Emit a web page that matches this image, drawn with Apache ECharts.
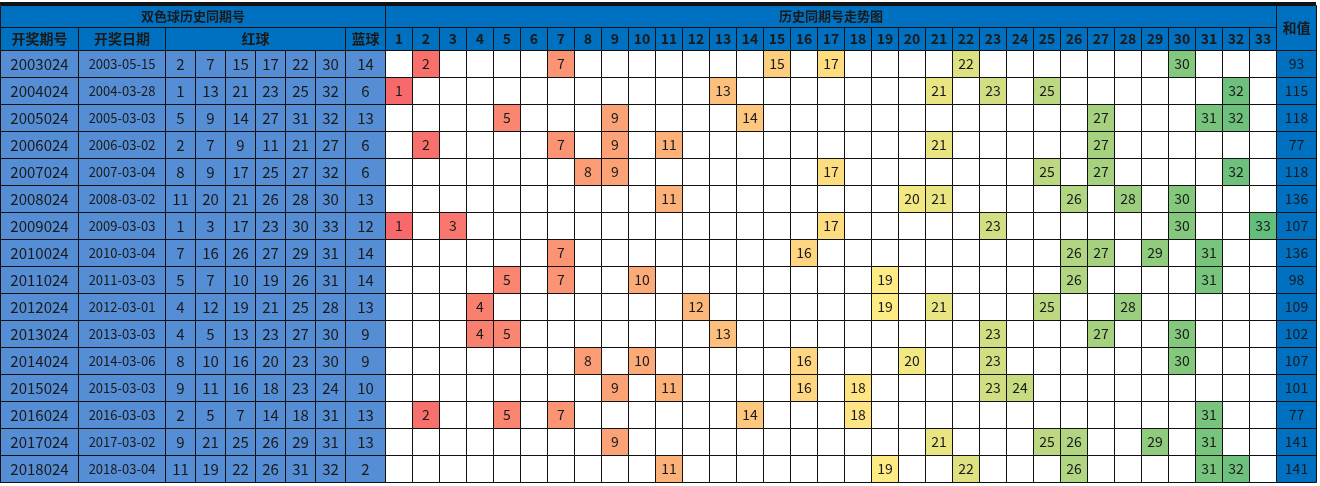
<!DOCTYPE html>
<html><head><meta charset="utf-8">
<script src="https://cdn.jsdelivr.net/npm/echarts@6/dist/echarts.min.js"></script>
<style>html,body{margin:0;padding:0;background:#fff}#c{width:1320px;height:486px}</style>
</head><body><div id="c"></div>
<script>
const issues = ['2003024','2004024','2005024','2006024','2007024','2008024','2009024','2010024','2011024','2012024','2013024','2014024','2015024','2016024','2017024','2018024'];
const dates = ['2003-05-15','2004-03-28','2005-03-03','2006-03-02','2007-03-04','2008-03-02','2009-03-03','2010-03-04','2011-03-03','2012-03-01','2013-03-03','2014-03-06','2015-03-03','2016-03-03','2017-03-02','2018-03-04'];
const redBalls = [
 [2,7,15,17,22,30],[1,13,21,23,25,32],[5,9,14,27,31,32],[2,7,9,11,21,27],
 [8,9,17,25,27,32],[11,20,21,26,28,30],[1,3,17,23,30,33],[7,16,26,27,29,31],
 [5,7,10,19,26,31],[4,12,19,21,25,28],[4,5,13,23,27,30],[8,10,16,20,23,30],
 [9,11,16,18,23,24],[2,5,7,14,18,31],[9,21,25,26,29,31],[11,19,22,26,31,32]];
const blueBalls = [14,6,13,6,6,13,12,14,14,13,9,9,10,13,13,2];
const sums = [93,115,118,77,118,136,107,136,98,109,102,107,101,77,141,141];
const trendNums = Array.from({length:33},(_,i)=>i+1);

// layout (column widths in px)
const colW = [78,87,30,30,30,30,30,30,40].concat(Array(33).fill(27)).concat([40]);
const edges=[0]; colW.forEach(w=>edges.push(edges[edges.length-1]+w));
const TITLE_Y=[5,27], HEAD_Y=[27,50], ROW0=50, ROWH=27;
const DARK='#0070c0', MID='#558ed5';
function lerp(a,b,t){return a.map((v,i)=>Math.round(v+(b[i]-v)*t));}
function numColor(n){
  const r=[248,105,107], y=[255,235,132], g=[99,190,123];
  const c = n<=19 ? lerp(r,y,(n-1)/18) : lerp(y,g,(n-19)/14);
  return 'rgb('+c.join(',')+')';
}
// build cells: [x0,x1,y0,y1,text,fill,fontWeight,fontSize,textColor]
const cells=[];
function cell(c0,c1,y0,y1,text,fill,bold,size){cells.push([edges[c0],edges[c1],y0,y1,String(text),fill,bold?'bold':'normal',size||14]);}
cell(0,9,TITLE_Y[0],TITLE_Y[1],'双色球历史同期号',DARK,true,13);
cell(9,42,TITLE_Y[0],TITLE_Y[1],'历史同期号走势图',DARK,true,13);
cell(42,43,TITLE_Y[0],HEAD_Y[1],'和值',DARK,true,14);
cell(0,1,HEAD_Y[0],HEAD_Y[1],'开奖期号',DARK,true,14);
cell(1,2,HEAD_Y[0],HEAD_Y[1],'开奖日期',DARK,true,14);
cell(2,8,HEAD_Y[0],HEAD_Y[1],'红球',DARK,true,14);
cell(8,9,HEAD_Y[0],HEAD_Y[1],'蓝球',DARK,true,14);
trendNums.forEach((n,i)=>cell(9+i,10+i,HEAD_Y[0],HEAD_Y[1],n,DARK,true,14));
issues.forEach((iss,r)=>{
  const y0=ROW0+r*ROWH,y1=y0+ROWH;
  cell(0,1,y0,y1,iss,MID,false,15);
  cell(1,2,y0,y1,dates[r],MID,false,13);
  redBalls[r].forEach((b,k)=>cell(2+k,3+k,y0,y1,b,MID,false,15));
  cell(8,9,y0,y1,blueBalls[r],MID,false,15);
  trendNums.forEach((n,i)=>{
    const hit=redBalls[r].includes(n);
    cell(9+i,10+i,y0,y1,hit?n:'',hit?numColor(n):'#ffffff',false,14);
  });
  cell(42,43,y0,y1,sums[r],DARK,false,14);
});
const chart=echarts.init(document.getElementById('c'));
chart.setOption({
  animation:false,
  grid:{left:0,right:0,top:0,bottom:0},
  xAxis:{type:'value',min:0,max:1320,show:false},
  yAxis:{type:'value',min:0,max:486,inverse:true,show:false},
  series:[{type:'custom',data:cells,encode:{x:[0,1],y:[2,3]},
    renderItem:(p,api)=>{
      const a=api.coord([api.value(0),api.value(2)]),b=api.coord([api.value(1),api.value(3)]);
      const d=cells[p.dataIndex];
      return {type:'rect',shape:{x:a[0]+0.5,y:a[1]+0.5,width:b[0]-a[0],height:b[1]-a[1]},
        style:{fill:d[5],stroke:'#111',lineWidth:1,text:d[4],
          textFill:'#1a1a1a',fontSize:d[7],fontWeight:d[6],fontFamily:'"Noto Sans CJK SC","Noto Sans",sans-serif'}};
    }}],
  graphic:[
    {type:'rect',shape:{x:0,y:2,width:1316,height:3},style:{fill:'#111'}},
    {type:'rect',shape:{x:0,y:481,width:1316,height:2},style:{fill:'#111'}},
    {type:'text',left:1030,top:432,style:{text:'头条 @多力工作室',fontSize:30,fill:'#fff',stroke:'#333',lineWidth:1,
      fontFamily:'"Noto Sans CJK SC",sans-serif',shadowBlur:3,shadowColor:'rgba(0,0,0,0.6)'}}
  ]
});
</script></body></html>
